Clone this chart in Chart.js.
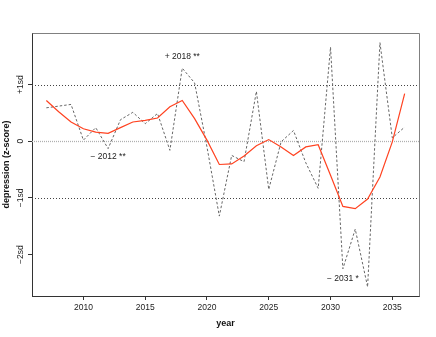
<!DOCTYPE html>
<html>
<head>
<meta charset="utf-8">
<title>depression z-score by year</title>
<script src="https://cdn.jsdelivr.net/npm/chart.js@4"></script>
<style>
  html, body { margin: 0; padding: 0; background: #ffffff; }
  canvas { display: block; }
</style>
</head>
<body>
<canvas id="chart" width="436" height="337"></canvas>
<script>
// ===== DATA =====
const years = [2007, 2008, 2009, 2010, 2011, 2012, 2013, 2014, 2015, 2016,
               2017, 2018, 2019, 2020, 2021, 2022, 2023, 2024, 2025, 2026,
               2027, 2028, 2029, 2030, 2031, 2032, 2033, 2034, 2035, 2036];

// yearly z-scores (dashed line)
const observed = [0.59, 0.62, 0.65, 0.02, 0.24, -0.13, 0.38, 0.51, 0.31, 0.49,
                  -0.16, 1.29, 1.03, -0.10, -1.32, -0.25, -0.36, 0.88, -0.85, -0.01,
                  0.19, -0.38, -0.83, 1.66, -2.25, -1.55, -2.57, 1.74, 0.06, 0.25];

// smoothed trend (red line)
const smoothed = [0.72, 0.52, 0.34, 0.22, 0.16, 0.14, 0.24, 0.34, 0.37, 0.41,
                  0.61, 0.72, 0.40, 0.02, -0.41, -0.40, -0.26, -0.08, 0.03, -0.10,
                  -0.25, -0.10, -0.06, -0.60, -1.15, -1.19, -1.02, -0.63, -0.01, 0.84];

const xTicks = [2010, 2015, 2020, 2025, 2030, 2035];
const yTicks = [-2, -1, 0, 1];
const yTickLabels = ['\u22122sd', '\u22121sd', '0', '+1sd'];
const refLines = [1, 0, -1];

// labelled extremes
const noteYears = [2018, 2012, 2031];
const noteValues = [1.50, -0.28, -2.42];
const noteLabels = ['+ 2018 **', '\u2212 2012 **', '\u2212 2031 *'];

const FONT = "'Liberation Sans', Arial, Helvetica, sans-serif";

// ===== PLUGINS =====
const refLinePlugin = {
    id: 'refLines',
    beforeDatasetsDraw(chart) {
        const { ctx, chartArea: { left, right }, scales: { y } } = chart;
        ctx.save();
        refLines.forEach(v => {
            const py = Math.round(y.getPixelForValue(v)) + 0.5;
            ctx.beginPath();
            if (v === 0) {
                ctx.strokeStyle = '#b0b0b0';
                ctx.lineWidth = 1.3;
                ctx.setLineDash([1, 1]);
            } else {
                ctx.strokeStyle = '#444444';
                ctx.lineWidth = 1;
                ctx.setLineDash([1, 2]);
            }
            ctx.moveTo(left, py);
            ctx.lineTo(right, py);
            ctx.stroke();
        });
        ctx.restore();
    }
};

const decorPlugin = {
    id: 'decor',
    afterDraw(chart) {
        const { ctx, chartArea: { left, right, top, bottom }, scales: { x, y } } = chart;
        ctx.save();
        // top / right of the box
        ctx.strokeStyle = '#808080';
        ctx.lineWidth = 1;
        ctx.beginPath();
        ctx.moveTo(Math.round(left) + 0.5, Math.round(top) + 0.5);
        ctx.lineTo(Math.round(right) + 0.5, Math.round(top) + 0.5);
        ctx.lineTo(Math.round(right) + 0.5, Math.round(bottom) + 0.5);
        ctx.stroke();

        // rotated y tick labels
        ctx.fillStyle = '#222222';
        ctx.font = `8.5px ${FONT}`;
        ctx.textAlign = 'center';
        ctx.textBaseline = 'middle';
        yTicks.forEach((v, i) => {
            ctx.save();
            ctx.translate(21, y.getPixelForValue(v));
            ctx.rotate(-Math.PI / 2);
            ctx.fillText(yTickLabels[i], 0, 0);
            ctx.restore();
        });

        // annotations
        ctx.font = `8.5px ${FONT}`;
        noteYears.forEach((yr, i) => {
            ctx.fillText(noteLabels[i], x.getPixelForValue(yr), y.getPixelForValue(noteValues[i]));
        });
        ctx.restore();
    }
};

// ===== CHART =====
new Chart(document.getElementById('chart'), {
    type: 'line',
    data: {
        labels: years,
        datasets: [{
            label: 'smoothed',
            data: years.map((yr, i) => ({ x: yr, y: smoothed[i] })),
            borderColor: '#ff4220',
            borderWidth: 1.2,
            tension: 0,
            pointRadius: 0,
            fill: false
        }, {
            label: 'observed',
            data: years.map((yr, i) => ({ x: yr, y: observed[i] })),
            borderColor: '#666666',
            borderWidth: 1,
            borderDash: [2.5, 2],
            tension: 0,
            pointRadius: 0,
            fill: false
        }]
    },
    options: {
        responsive: false,
        animation: false,
        devicePixelRatio: 1,
        layout: {
            padding: { top: 33, right: 17, left: 0, bottom: 0 }
        },
        plugins: {
            legend: { display: false },
            tooltip: { enabled: false }
        },
        scales: {
            x: {
                type: 'linear',
                min: 2005.84,
                max: 2037.16,
                afterBuildTicks: scale => { scale.ticks = xTicks.map(v => ({ value: v })); },
                afterFit: scale => { scale.height = 41; },
                grid: {
                    drawOnChartArea: false,
                    drawTicks: true,
                    tickLength: 4,
                    color: '#333333'
                },
                border: { display: true, color: '#333333', width: 1 },
                ticks: {
                    color: '#222222',
                    padding: 3,
                    maxRotation: 0,
                    font: { family: FONT, size: 8.5 },
                    callback: v => String(v)
                },
                title: {
                    display: true,
                    text: 'year',
                    color: '#111111',
                    font: { family: FONT, size: 9, weight: 'bold' },
                    padding: { top: 0, bottom: 8 }
                }
            },
            y: {
                min: -2.73,
                max: 1.91,
                afterBuildTicks: scale => { scale.ticks = yTicks.map(v => ({ value: v })); },
                afterFit: scale => { scale.width = 32; },
                grid: {
                    drawOnChartArea: false,
                    drawTicks: true,
                    tickLength: 4,
                    color: '#333333'
                },
                border: { display: true, color: '#333333', width: 1 },
                ticks: { display: false },
                title: {
                    display: true,
                    text: 'depression (z-score)',
                    color: '#111111',
                    font: { family: FONT, size: 9, weight: 'bold' },
                    padding: { top: 1, bottom: 0 }
                }
            }
        }
    },
    plugins: [refLinePlugin, decorPlugin]
});
</script>
</body>
</html>
